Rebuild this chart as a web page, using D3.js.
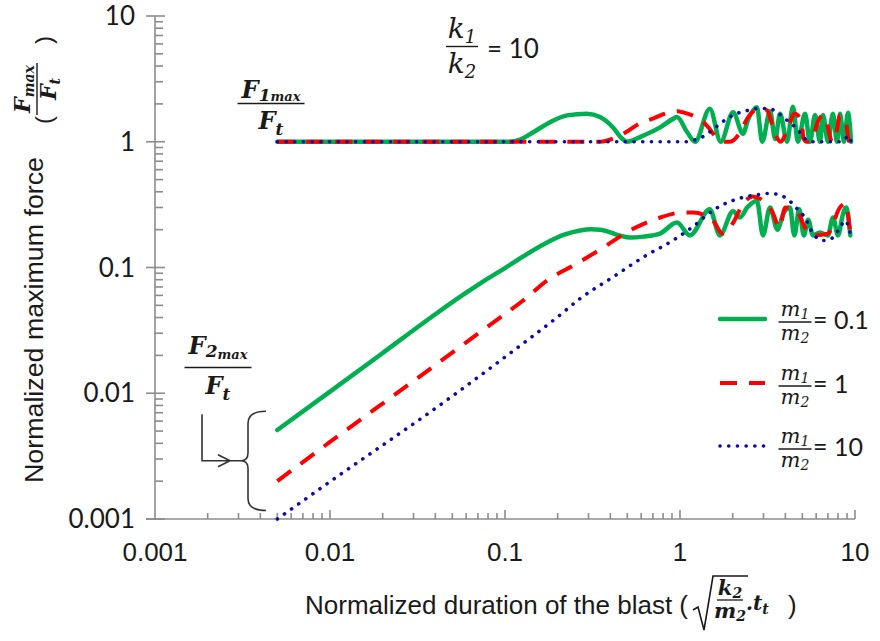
<!DOCTYPE html>
<html><head><meta charset="utf-8">
<script src="https://cdn.jsdelivr.net/npm/d3@7"></script>
<style>body{margin:0;background:#fff}svg{display:block}</style>
</head><body>
<svg id="chart" width="880" height="641"></svg>
<script>
// ---------- axis ticks ----------
const xTickValues = [0.001, 0.01, 0.1, 1, 10];
const xTickLabels = ["0.001", "0.01", "0.1", "1", "10"];
const yTickValues = [0.001, 0.01, 0.1, 1, 10];
const yTickLabels = ["0.001", "0.01", "0.1", "1", "10"];

// ---------- series: [normalized duration, normalized max force] ----------
// F1max/Ft (upper family)
const f1Green = [[0.005,1],[0.107,1],[0.122,1.04],[0.145,1.19],[0.181,1.43],[0.226,1.62],[0.294,1.67],[0.349,1.57],[0.414,1.30],[0.466,1.06],[0.498,1.0],[0.59,1.09],[0.769,1.30],[0.912,1.52],[0.96,1.57],[1.1,1.19],[1.22,1.0],[1.48,1.83],[1.71,1.0],[2.01,1.72],[2.29,1.16],[2.45,1.5],[2.75,1.88],[2.95,1.0],[3.27,1.75],[3.5,1.05],[3.73,1.67],[4.09,1.0],[4.42,1.9],[4.72,1.0],[5.18,1.67],[5.53,1.0],[5.91,1.63],[6.31,1.0],[6.56,1.63],[7.01,1.0],[7.48,1.67],[7.89,1.0],[8.21,1.67],[8.65,1.0],[9.12,1.7],[9.49,1.0]];
const f1Red = [[0.005,1],[0.35,1],[0.414,1.06],[0.485,1.18],[0.59,1.40],[0.70,1.53],[0.854,1.70],[0.97,1.75],[1.03,1.72],[1.27,1.53],[1.39,1.39],[1.65,1.06],[1.81,1.0],[1.93,1.0],[2.26,1.27],[2.35,1.42],[2.87,1.84],[3.14,1.78],[3.4,1.3],[3.56,1.1],[3.75,1.0],[3.95,1.1],[4.09,1.27],[4.25,1.42],[4.5,1.68],[4.72,1.62],[4.98,1.35],[5.08,1.06],[5.3,1.0],[5.7,1.05],[6.1,1.42],[6.56,1.62],[6.9,1.4],[7.4,1.0],[7.8,1.15],[8.21,1.62],[8.6,1.55],[8.9,1.42],[9.2,1.02],[9.5,1.0]];
const f1Blue = [[0.005,1],[1.1,1],[1.27,1.06],[1.39,1.12],[1.52,1.23],[1.65,1.35],[1.8,1.48],[2.0,1.62],[2.2,1.71],[2.42,1.77],[2.8,1.84],[3.2,1.84],[3.56,1.73],[3.9,1.56],[4.25,1.42],[4.66,1.27],[5.0,1.12],[5.35,1.02],[5.7,1.0],[8.2,1.0],[8.8,1.05],[9.1,1.12],[9.5,1.0]];

// F2max/Ft (lower family)
const f2Green = [[0.005,0.0051],[0.01,0.0103],[0.02,0.0209],[0.04,0.0425],[0.06,0.063],[0.08,0.082],[0.1,0.099],[0.13,0.125],[0.174,0.158],[0.22,0.183],[0.269,0.197],[0.31,0.201],[0.349,0.200],[0.454,0.179],[0.518,0.173],[0.62,0.176],[0.769,0.186],[0.96,0.228],[1.14,0.18],[1.48,0.29],[1.69,0.18],[2.01,0.28],[2.2,0.25],[2.42,0.30],[2.75,0.34],[2.98,0.18],[3.27,0.30],[3.6,0.20],[3.9,0.27],[4.25,0.30],[4.5,0.18],[4.8,0.29],[5.1,0.18],[5.4,0.24],[5.75,0.18],[6.3,0.19],[7.0,0.18],[7.48,0.25],[8.0,0.18],[8.5,0.26],[8.9,0.30],[9.4,0.18]];
const f2Red = [[0.005,0.002],[0.01,0.0041],[0.03,0.0125],[0.06,0.0254],[0.1,0.0427],[0.127,0.0546],[0.174,0.0788],[0.258,0.1076],[0.364,0.144],[0.518,0.197],[0.74,0.245],[1.04,0.274],[1.19,0.274],[1.54,0.236],[1.75,0.186],[2.0,0.224],[2.3,0.323],[2.6,0.367],[2.97,0.341],[3.4,0.269],[3.7,0.208],[4.0,0.30],[4.6,0.284],[5.3,0.197],[5.75,0.18],[7.0,0.186],[8.2,0.30],[8.8,0.323],[9.4,0.186]];
const f2Blue = [[0.005,0.001],[0.01,0.00198],[0.0464,0.0088],[0.1,0.0194],[0.2,0.0405],[0.269,0.0567],[0.41,0.0833],[0.64,0.1246],[0.91,0.164],[1.19,0.212],[1.54,0.284],[2.0,0.341],[2.6,0.374],[3.27,0.388],[4.0,0.36],[4.6,0.30],[5.3,0.236],[5.75,0.186],[6.6,0.164],[7.5,0.173],[8.2,0.208],[8.8,0.236],[9.4,0.186]];

// legend
const legendRatios = ["0.1", "1", "10"];

// ---------- drawing ----------
const svg = d3.select("#chart");
const x = d3.scaleLog().domain([0.001, 10]).range([155, 855]);
const y = d3.scaleLog().domain([0.001, 10]).range([519, 16]);

const axisColor = "#8c8c8c";
const txt = "#1a1a1a";
const mathFont = "'DejaVu Serif', 'Liberation Serif', serif";
const numFont = "Lato, 'Open Sans', sans-serif";
const sansFont = "'Liberation Sans', Arial, sans-serif";

// axes
const gAx = svg.append("g").attr("stroke", axisColor).attr("stroke-width", 1.6);
const isMajor = v => xTickValues.some(m => Math.abs(v / m - 1) < 1e-6);

gAx.append("line").attr("x1", x(0.001)).attr("x2", x(0.001)).attr("y1", y(10)).attr("y2", y(0.001));
gAx.append("line").attr("x1", x(0.001) - 9).attr("x2", x(10)).attr("y1", y(0.001)).attr("y2", y(0.001));

y.ticks().forEach(v => {
  const maj = isMajor(v);
  gAx.append("line")
    .attr("x1", maj ? x(0.001) - 9 : x(0.001)).attr("x2", x(0.001) + (maj ? 10 : 8))
    .attr("y1", y(v)).attr("y2", y(v));
});
x.ticks().forEach(v => {
  if (v <= 0.001) return;
  const maj = isMajor(v);
  gAx.append("line")
    .attr("x1", x(v)).attr("x2", x(v))
    .attr("y1", y(0.001)).attr("y2", y(0.001) - (maj ? 9 : 6));
});

// tick labels
svg.append("g").selectAll("text").data(yTickValues).join("text")
  .attr("x", x(0.001) - 20).attr("y", d => y(d) + 9)
  .attr("text-anchor", "end").attr("font-family", numFont).attr("font-size", 26)
  .attr("fill", txt).text((d, i) => yTickLabels[i]);
svg.append("g").selectAll("text").data(xTickValues).join("text")
  .attr("x", d => x(d)).attr("y", y(0.001) + 42)
  .attr("text-anchor", "middle").attr("font-family", sansFont).attr("font-size", 26)
  .attr("fill", txt).text((d, i) => xTickLabels[i]);

// series
const line = d3.line().x(d => x(d[0])).y(d => y(d[1])).curve(d3.curveMonotoneX);
const styles = {
  green: {stroke: "#00b050", width: 4.5, dash: null, cap: "round"},
  red:   {stroke: "#ff0000", width: 4, dash: "17,12", cap: "butt"},
  blue:  {stroke: "#0c0ca8", width: 3.6, dash: "0.1,8.6", cap: "round"}
};
const series = [
  [f1Green, "green"], [f2Green, "green"],
  [f1Red, "red"], [f2Red, "red"],
  [f1Blue, "blue"], [f2Blue, "blue"]
];
const gS = svg.append("g").attr("fill", "none");
series.forEach(([data, key]) => {
  const s = styles[key];
  gS.append("path").attr("d", line(data))
    .attr("stroke", s.stroke).attr("stroke-width", s.width)
    .attr("stroke-dasharray", s.dash).attr("stroke-linecap", s.cap)
    .attr("stroke-linejoin", "round");
});

// fraction helper
function frac(g, cx, barY, barW, num, numSub, den, denSub, o) {
  const fs = o.fs, weight = o.weight || "normal";
  const n = g.append("text").attr("x", cx).attr("y", barY - o.numGap)
    .attr("text-anchor", "middle").attr("font-family", mathFont).attr("font-style", "italic")
    .attr("font-weight", weight).attr("font-size", fs).attr("fill", txt);
  n.append("tspan").text(num);
  if (numSub) numSub.forEach(s => n.append("tspan").attr("font-size", s.fs).attr("dy", s.dy).text(s.t));
  g.append("line").attr("x1", cx - barW / 2).attr("x2", cx + barW / 2)
    .attr("y1", barY).attr("y2", barY).attr("stroke", txt).attr("stroke-width", o.barSW || 1.4);
  const d = g.append("text").attr("x", cx).attr("y", barY + o.denGap)
    .attr("text-anchor", "middle").attr("font-family", mathFont).attr("font-style", "italic")
    .attr("font-weight", weight).attr("font-size", fs).attr("fill", txt);
  d.append("tspan").text(den);
  if (denSub) denSub.forEach(s => d.append("tspan").attr("font-size", s.fs).attr("dy", s.dy).text(s.t));
}

const gA = svg.append("g");
// k1/k2 = 10
frac(gA, 462, 46.5, 32, "k", [{t: "1", fs: 18, dy: 5}], "k", [{t: "2", fs: 18, dy: 5}],
  {fs: 28, numGap: 9, denGap: 26});
gA.append("text").attr("x", 487).attr("y", 58).attr("font-family", numFont).attr("font-size", 26)
  .attr("fill", txt).text("= 10");

// F1max / Ft
frac(gA, 271, 103.5, 67, "F", [{t: "1", fs: 17, dy: 3}, {t: "max", fs: 13, dy: 0}], "F", [{t: "t", fs: 17, dy: 6}],
  {fs: 24, numGap: 6, denGap: 25, weight: "bold", barSW: 1.6});
// F2max / Ft
frac(gA, 218, 367.5, 67, "F", [{t: "2", fs: 17, dy: 3}, {t: "max", fs: 13, dy: 2}], "F", [{t: "t", fs: 17, dy: 6}],
  {fs: 24, numGap: 14, denGap: 26, weight: "bold", barSW: 1.6});

// brace + arrow, anchored in data space
const bx = x(0.0034), bTop = y(0.0072), bBot = y(0.00117), bMid = (bTop + bBot) / 2;
gA.append("path").attr("fill", "none").attr("stroke", "#333").attr("stroke-width", 1.6)
  .attr("d", `M${bx + 18},${bTop} Q${bx},${bTop} ${bx},${bTop + 12} L${bx},${bMid - 8} Q${bx},${bMid} ${bx - 7},${bMid} Q${bx},${bMid} ${bx},${bMid + 8} L${bx},${bBot - 12} Q${bx},${bBot} ${bx + 18},${bBot}`);
gA.append("path").attr("fill", "none").attr("stroke", "#333").attr("stroke-width", 1.6)
  .attr("d", `M${bx - 46},${bTop + 3} L${bx - 46},${bMid} L${bx - 7},${bMid} M${bx - 30},${bMid - 6} L${bx - 18},${bMid} L${bx - 30},${bMid + 6}`);

// legend
const gL = svg.append("g");
const legY = [319, 383, 446];
const legKeys = ["green", "red", "blue"];
legKeys.forEach((k, i) => {
  const s = styles[k];
  gL.append("line").attr("x1", 720).attr("x2", 765).attr("y1", legY[i]).attr("y2", legY[i])
    .attr("stroke", s.stroke).attr("stroke-width", s.width)
    .attr("stroke-dasharray", s.dash).attr("stroke-linecap", s.cap);
  frac(gL, 795, legY[i] + 3, 33, "m", [{t: "1", fs: 14, dy: 3}], "m", [{t: "2", fs: 14, dy: 3}],
    {fs: 21, numGap: 6, denGap: 18});
  gL.append("text").attr("x", 813).attr("y", legY[i] + 10).attr("font-family", numFont)
    .attr("font-size", 25).attr("fill", txt).text("= " + legendRatios[i]);
});

// x-axis title
const gX = svg.append("g");
gX.append("text").attr("x", 305).attr("y", 614).attr("font-family", sansFont).attr("font-size", 26)
  .attr("textLength", 383).attr("lengthAdjust", "spacingAndGlyphs").attr("fill", txt)
  .text("Normalized duration of the blast (");
gX.append("path").attr("fill", "none").attr("stroke", txt).attr("stroke-width", 1.6)
  .attr("d", "M693,610 L698,607 L704,630 L713,576 L748,576");
frac(gX, 730, 600, 26, "k", [{t: "2", fs: 14, dy: 3}], "m", [{t: "2", fs: 14, dy: 3}],
  {fs: 21, numGap: 5, denGap: 18, weight: "bold", barSW: 1.3});
const tt = gX.append("text").attr("x", 746).attr("y", 610).attr("font-family", mathFont)
  .attr("font-style", "italic").attr("font-weight", "bold").attr("font-size", 20).attr("fill", txt);
tt.append("tspan").text(".t");
tt.append("tspan").attr("font-size", 14).attr("dy", 4).text("t");
gX.append("text").attr("x", 788).attr("y", 614).attr("font-family", sansFont).attr("font-size", 26)
  .attr("fill", txt).text(")");

// y-axis title (rotated)
const gY = svg.append("g").attr("transform", "translate(43,483) rotate(-90)");
gY.append("text").attr("x", 0).attr("y", 0).attr("font-family", sansFont).attr("font-size", 26)
  .attr("textLength", 326).attr("lengthAdjust", "spacingAndGlyphs").attr("fill", txt)
  .text("Normalized maximum force");
gY.append("text").attr("x", 363).attr("y", 9).attr("text-anchor", "middle").attr("font-family", sansFont)
  .attr("font-size", 24).attr("fill", txt).text("(");
gY.append("text").attr("x", 443).attr("y", 9).attr("text-anchor", "middle").attr("font-family", sansFont)
  .attr("font-size", 24).attr("fill", txt).text(")");
frac(gY, 394, -6, 52, "F", [{t: "max", fs: 14, dy: 4}], "F", [{t: "t", fs: 14, dy: 4}],
  {fs: 22, numGap: 7, denGap: 19, weight: "bold", barSW: 1.4});
</script>
</body></html>
